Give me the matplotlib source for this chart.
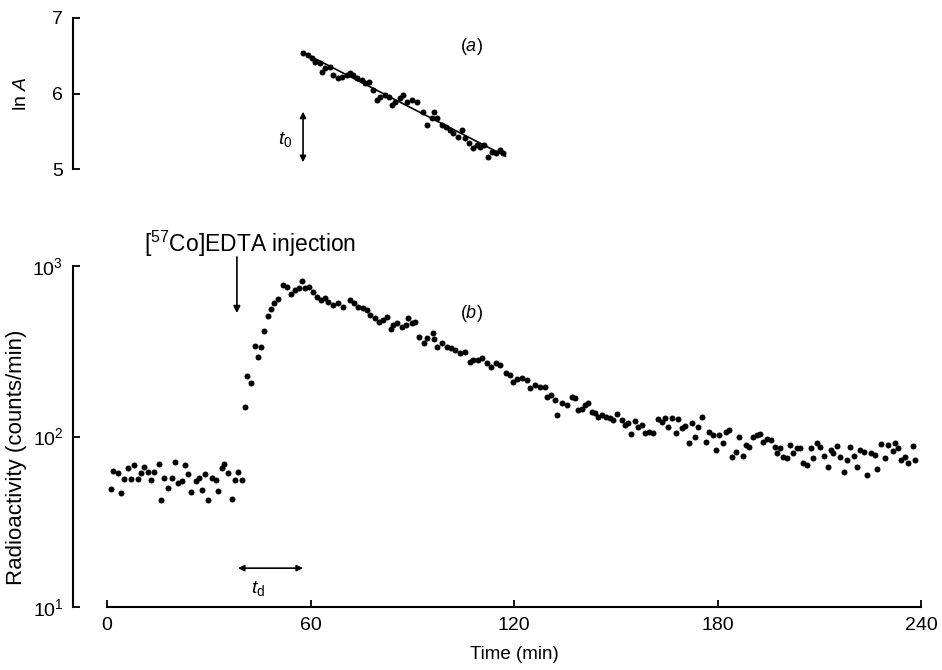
import matplotlib
matplotlib.use('Agg')
import matplotlib.pyplot as plt

plt.rcParams['font.family'] = ['Liberation Sans', 'DejaVu Sans']
plt.rcParams['mathtext.fontset'] = 'custom'
plt.rcParams['mathtext.rm'] = 'Liberation Sans'
plt.rcParams['mathtext.it'] = 'Liberation Sans:italic'
plt.rcParams['mathtext.bf'] = 'Liberation Sans:bold'

# ---------------- data ----------------
# (a) ln A after t0
lnA_t = [57.8, 59.3, 60.5, 61.4, 62.8, 63.4, 64.3, 65.8, 66.7, 68.1, 69.3, 70.8, 71.7,
         72.6, 73.7, 75.2, 76.1, 77.3, 78.5, 79.6, 80.5, 82.0, 83.2, 84.1, 85.0, 86.4,
         87.3, 88.5, 90.0, 91.4, 93.2, 94.4, 95.9, 96.5, 97.3, 98.8, 100.0, 101.2, 102.1,
         103.5, 104.7, 105.6, 106.8, 108.0, 109.1, 110.0, 111.2, 112.4, 113.6, 114.7,
         115.9, 116.8]
lnA_v = [6.536, 6.510, 6.470, 6.417, 6.404, 6.285, 6.338, 6.351, 6.245, 6.205, 6.219,
         6.245, 6.272, 6.245, 6.205, 6.179, 6.139, 6.152, 6.046, 5.914, 5.954, 5.980,
         5.954, 5.848, 5.887, 5.940, 5.980, 5.887, 5.914, 5.887, 5.755, 5.583, 5.675,
         5.755, 5.675, 5.583, 5.556, 5.517, 5.477, 5.424, 5.517, 5.411, 5.344, 5.278,
         5.318, 5.291, 5.318, 5.159, 5.225, 5.212, 5.252, 5.212]
fit_t = [57.5, 117.5]
fit_lnA = [6.55, 5.17]

# (b) baseline before injection
base_t = [1.2, 1.8, 3.2, 4.1, 5.0, 6.2, 7.1, 8.0, 9.1, 10.0, 10.9, 12.1, 13.0, 13.9,
          15.3, 15.9, 16.8, 18.0, 19.2, 20.1, 20.9, 22.1, 23.0, 23.9, 24.8, 26.3, 27.1,
          28.0, 28.9, 29.8, 31.0, 32.2, 32.7, 33.9, 34.5, 35.7, 36.9, 37.8, 38.6, 39.8]
base_v = [49.2, 62.8, 61.1, 46.6, 56.4, 65.3, 56.4, 68.0, 56.4, 61.1, 66.2, 61.9, 55.6,
          61.9, 69.0, 42.4, 57.1, 49.9, 57.1, 70.8, 53.4, 54.8, 68.0, 60.3, 47.2, 54.8,
          57.1, 48.6, 60.3, 42.4, 57.1, 55.6, 47.9, 65.3, 69.0, 61.1, 43.0, 55.6, 61.9,
          55.6]

# (b) after injection
post_t = [40.7, 41.3, 42.5, 43.7, 44.5, 45.4, 46.3, 47.5, 48.4, 49.3, 50.4, 51.9, 53.1,
          54.3, 55.5, 56.6, 57.5, 58.4, 59.6, 60.8, 61.9, 63.1, 64.3, 65.2, 66.7, 68.1,
          69.6, 71.7, 72.9, 74.0, 75.5, 76.7, 77.6, 79.1, 80.2, 81.4, 82.6, 83.8, 84.4,
          85.5, 87.0, 88.2, 88.8, 90.0, 90.9, 92.0, 93.5, 94.4, 96.2, 96.5, 97.3, 98.8,
          100.3, 101.5, 102.7, 104.1, 105.6, 107.1, 108.0, 109.4, 110.6, 112.1, 113.3,
          114.7, 115.9, 117.7, 118.9, 119.8, 120.9, 122.4, 123.9, 124.8, 126.3, 127.7,
          129.2, 129.8, 131.0, 132.2, 132.7, 134.2, 135.7, 137.2, 138.1, 138.9, 140.1,
          141.0, 141.9, 143.1, 144.0, 144.8, 146.0, 147.2, 148.4, 149.3, 150.4, 151.9,
          152.8, 153.7, 154.6, 155.8, 156.6, 157.8, 158.7, 159.9, 161.1, 162.5, 163.7,
          164.6, 165.5, 166.7, 167.8, 168.4, 169.6, 170.5, 171.7, 172.6, 173.5, 174.3,
          175.5, 176.7, 177.6, 178.8, 179.6, 180.5, 181.7, 182.6, 183.5, 184.4, 185.5,
          186.4, 187.6, 188.5, 189.4, 190.6, 191.7, 192.6, 193.5, 194.7, 195.9, 197.1,
          197.6, 198.5, 199.4, 200.6, 201.5, 202.4, 203.5, 204.4, 205.3, 206.5, 207.7,
          208.3, 209.4, 210.3, 211.5, 212.7, 213.6, 214.2, 215.3, 216.2, 217.4, 218.3,
          219.2, 220.1, 221.2, 222.1, 223.3, 224.2, 225.4, 226.3, 227.1, 228.3, 229.5,
          230.4, 231.6, 232.2, 233.3, 234.2, 235.4, 236.3, 237.5, 238.3]
post_v = [149, 226, 206, 339, 293, 335, 416, 509, 559, 606, 640, 773, 753, 685, 723, 743,
          816, 743, 753, 704, 658, 632, 649, 615, 590, 606, 575, 632, 606, 575, 567, 552,
          516, 495, 469, 482, 502, 427, 451, 463, 439, 451, 495, 463, 469, 383, 353, 378,
          405, 373, 335, 353, 335, 330, 322, 309, 313, 273, 281, 281, 289, 270, 256, 270,
          263, 236, 229, 209, 217, 220, 214, 193, 200, 195, 195, 170, 175, 164, 134, 157,
          153, 170, 168, 143, 145, 153, 157, 139, 137, 130, 134, 130, 128, 125, 136, 125,
          117, 120, 103, 123, 114, 117, 105, 106, 105, 127, 122, 128, 114, 128, 105, 127,
          112, 115, 92, 120, 99, 114, 130, 92.8, 106, 102, 83.4, 102, 92, 106, 109, 75.9,
          81.2, 99, 76.9, 89.2, 86.8, 99, 102, 103, 92.8, 96.7, 95.4, 86.8, 80.1, 85.7,
          75.9, 74.8, 89.2, 80.1, 85.7, 85.7, 70.0, 68.1, 85.7, 74.8, 91.6, 86.8, 76.9,
          66.3, 83.4, 80.1, 88.0, 75.9, 62.0, 72.9, 86.8, 76.9, 66.3, 83.4, 81.2, 59.5,
          80.1, 77.9, 64.5, 90.4, 74.8, 89.2, 82.3, 91.6, 85.7, 72.9, 75.9, 70.0, 88.0,
          72.9]

x_ticks = [0, 60, 120, 180, 240]
top_yticks = [5, 6, 7]
bot_yticks = [10, 100, 1000]

# ---------------- figure ----------------
W, H = 942, 670
fig = plt.figure(figsize=(W / 100, H / 100), dpi=100)
ax_top = fig.add_axes([107 / W, 1 - 169 / H, 814 / W, 151 / H])
ax_bot = fig.add_axes([107 / W, 1 - 607 / H, 814 / W, 341 / H])

ms = 4.3
lw_sp = 1.5

# --- top panel ---
ax_top.plot(lnA_t, lnA_v, 'o', color='black', ms=ms, mew=0)
ax_top.plot(fit_t, fit_lnA, '-', color='black', lw=1.2)
ax_top.set_xlim(0, 240)
ax_top.set_ylim(5, 7)
for s in ['top', 'right', 'bottom']:
    ax_top.spines[s].set_visible(False)
ax_top.spines['left'].set_position(('outward', 24.5))
ax_top.spines['left'].set_linewidth(lw_sp)
ax_top.set_xticks([])
ax_top.set_yticks(top_yticks)
ax_top.tick_params(axis='y', direction='in', length=5, width=1.3, labelsize=14, pad=7)
ax_top.set_ylabel(r'ln $A$', fontsize=14)
ax_top.yaxis.set_label_coords(-0.095, 0.50)
ax_top.text(107.5, 6.62, r'($a$)', fontsize=13, ha='center', va='center')
ax_top.annotate('', xy=(57.8, 5.09), xytext=(57.8, 5.76),
                arrowprops=dict(arrowstyle='<|-|>', color='black', lw=1.2,
                                mutation_scale=9, shrinkA=0, shrinkB=0),
                annotation_clip=False)
ax_top.text(52.5, 5.39, r'$t_0$', fontsize=14, ha='center', va='center')

# --- bottom panel ---
ax_bot.set_yscale('log')
ax_bot.plot(base_t, base_v, 'o', color='black', ms=ms, mew=0)
ax_bot.plot(post_t, post_v, 'o', color='black', ms=ms, mew=0)
ax_bot.set_xlim(0, 240)
ax_bot.set_ylim(10, 1000)
for s in ['top', 'right']:
    ax_bot.spines[s].set_visible(False)
ax_bot.spines['left'].set_position(('outward', 24.5))
ax_bot.spines['left'].set_linewidth(lw_sp)
ax_bot.spines['bottom'].set_linewidth(lw_sp)
ax_bot.set_xticks(x_ticks)
ax_bot.set_xticklabels([str(v) for v in x_ticks])
ax_bot.set_yticks(bot_yticks)
ax_bot.minorticks_off()
ax_bot.tick_params(axis='y', direction='in', length=5, width=1.3, labelsize=14, pad=7)
ax_bot.tick_params(axis='x', direction='in', length=5, width=1.3, labelsize=14, pad=7)
ax_bot.set_ylabel('Radioactivity (counts/min)', fontsize=16)
ax_bot.yaxis.set_label_coords(-0.098, 0.44)
ax_bot.set_xlabel('Time (min)', fontsize=13.5)
ax_bot.xaxis.set_label_coords(0.501, -0.115)
ax_bot.text(107.5, 530, r'($b$)', fontsize=13, ha='center', va='center')

ax_bot.text(11.0, 1346, r'[$^{57}$Co]EDTA injection', fontsize=16.5, ha='left', va='center')
ax_bot.annotate('', xy=(38.3, 530), xytext=(38.3, 1130),
                arrowprops=dict(arrowstyle='-|>', color='black', lw=1.2,
                                mutation_scale=10, shrinkA=0, shrinkB=0),
                annotation_clip=False)
ax_bot.annotate('', xy=(38.6, 16.9), xytext=(57.8, 16.9),
                arrowprops=dict(arrowstyle='<|-|>', color='black', lw=1.2,
                                mutation_scale=9, shrinkA=0, shrinkB=0),
                annotation_clip=False)
ax_bot.text(44.5, 12.8, r'$t_{\mathrm{d}}$', fontsize=14, ha='center', va='center')

fig.savefig('out.png', dpi=100)
